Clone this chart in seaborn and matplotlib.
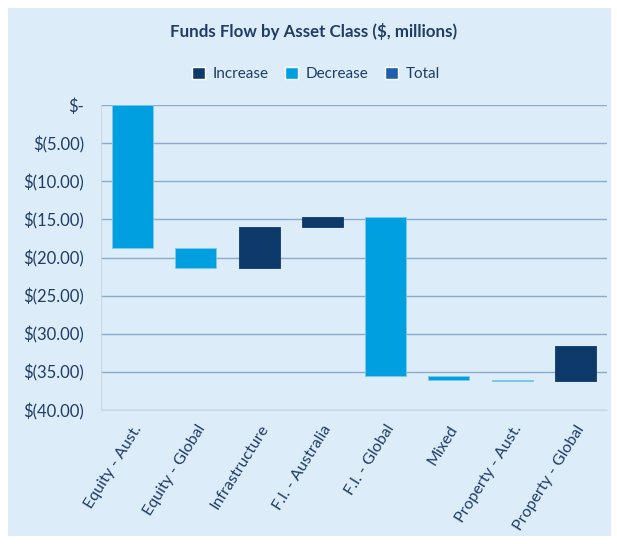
import numpy as np
import pandas as pd
import seaborn as sns
import matplotlib.pyplot as plt
from matplotlib.patches import Patch, Rectangle
from matplotlib.ticker import FuncFormatter

# data ($ millions)
categories = ["Equity - Aust.", "Equity - Global", "Infrastructure", "F.I. - Australia",
              "F.I. - Global", "Mixed", "Property - Aust.", "Property - Global"]
changes = [-18.8, -2.6, 5.4, 1.3, -20.8, -0.6, -0.1, 4.6]

inc_color = "#0d3a6b"
dec_color = "#009fdf"
tot_color = "#1f5fae"
panel_color = "#dcedf9"
text_color = "#1f3d66"

# running totals for the waterfall
ends = np.cumsum(changes)
starts = ends - np.array(changes)
df = pd.DataFrame({"category": categories, "change": changes, "start": starts})

sns.set_style("white")
plt.rcParams["font.family"] = ["Lato", "DejaVu Sans"]

fig = plt.figure(figsize=(6.17, 5.44), dpi=100)
fig.patch.set_facecolor("white")
fig.patches.append(Rectangle((8 / 617, 1 - 536 / 544), 603 / 617, 528 / 544,
                             transform=fig.transFigure, facecolor=panel_color,
                             edgecolor="none", zorder=-5))

ax = fig.add_axes([101 / 617, 1 - 410 / 544, 506 / 617, 305 / 544])
ax.set_facecolor(panel_color)

sns.barplot(data=df, x="category", y="change", bottom=df["start"].values,
            order=categories, width=0.65, ax=ax, zorder=3, linewidth=0,
            color=dec_color, saturation=1)
for patch, ch in zip(ax.patches, changes):
    patch.set_facecolor(inc_color if ch > 0 else dec_color)
    patch.set_edgecolor(inc_color if ch > 0 else "#7cc9ee")
    patch.set_linewidth(0.6)

ax.set_ylim(-40, 0)
ax.set_yticks(np.arange(-40, 1, 5))
ax.yaxis.set_major_formatter(FuncFormatter(
    lambda v, p: "$-" if abs(v) < 1e-9 else f"$({abs(v):.2f})"))
ax.grid(axis="y", color="#8eaacb", linewidth=1.0, zorder=1)
ax.set_axisbelow(True)
for s in ["top", "right"]:
    ax.spines[s].set_visible(False)
ax.spines["left"].set_color("#cfd8e0")
ax.spines["bottom"].set_color("#cfd8e0")
ax.spines["bottom"].set_zorder(2)
ax.tick_params(axis="both", length=0, colors=text_color)
ax.tick_params(axis="y", pad=12, labelsize=12)
ax.tick_params(axis="x", pad=9, labelsize=11.5)
ax.set_xlabel("")
ax.set_ylabel("")
plt.setp(ax.get_xticklabels(), rotation=58, ha="right", rotation_mode="anchor")

fig.text(0.508, 1 - 32 / 544, "Funds Flow by Asset Class ($, millions)", ha="center",
         va="center", fontsize=12.2, fontweight="bold", color=text_color)

handles = [Patch(facecolor=inc_color, label="Increase"),
           Patch(facecolor=dec_color, label="Decrease"),
           Patch(facecolor=tot_color, label="Total")]
leg = fig.legend(handles=handles, loc="center", bbox_to_anchor=(0.512, 1 - 74 / 544),
                 ncol=3, frameon=False, fontsize=11, handlelength=0.85, handleheight=0.85,
                 handletextpad=0.5, columnspacing=1.1)
for t in leg.get_texts():
    t.set_color(text_color)

fig.savefig("out.png", dpi=100)
